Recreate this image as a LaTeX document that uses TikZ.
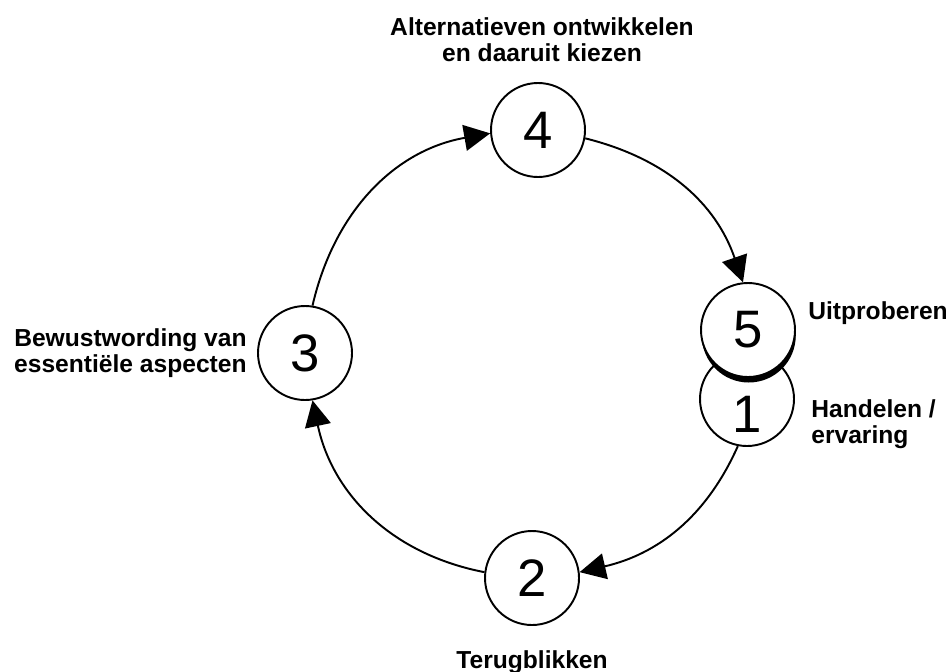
\documentclass[tikz,border=0pt]{standalone}
\usepackage{fontspec}
\setmainfont{Liberation Sans}
\usetikzlibrary{positioning, shadows, arrows.meta}

\begin{document}
\begin{tikzpicture}[stage/.style={circle, 
      draw, 
      line width=1.1pt, 
      fill=white, 
      minimum size=1.88cm, 
      inner sep=0pt, 
      font=\fontsize{30}{30}\selectfont},
    caption/.style={inner sep=0pt, 
      font=\bfseries\fontsize{14}{15}\selectfont},
    flow/.style={line width=1.1pt, 
      -{Triangle[length=0.52cm, width=0.52cm]}}]
  \useasboundingbox (0,0) rectangle (19,-13.42);


  \node [stage] (four) at (10.76,-2.60) {4};

  \node [stage] (three) at (6.10,-7.06) {3};

  \node [stage] (two) at (10.64,-11.56) {2};

  % digit sits low in this circle
  \node [stage] (one) at (14.94,-7.98) {\smash{\raisebox{-0.66cm}{1}}};

  \node [stage, 
    drop shadow={shadow xshift=0.015cm, 
      shadow yshift=-0.11cm, 
      fill=black, 
      opacity=1}] (five) at (14.96,-6.60) {5};


  \node [caption, 
    align=center, 
    above=0.4cm of four, 
    xshift=0.08cm] (fourtitle) {Alternatieven ontwikkelen\\en daaruit kiezen};

  \node [caption, 
    align=center, 
    left=0.2cm of three] (threetitle) {Bewustwording van\\essentiële aspecten};

  \node [caption, 
    below=0.48cm of two] (twotitle) {Terugblikken};

  \node [caption, 
    right=0.24cm of five, 
    yshift=0.33cm] (fivetitle) {Uitproberen};

  \node [caption, 
    align=left, 
    right=0.32cm of one, 
    yshift=-0.5cm] (onetitle) {Handelen /\\ervaring};


  \draw[flow] (three.81) to[out=77, in=190] (four.184);

  \draw[flow] (four.-10) to[out=-14, in=109] (five.96);

  \draw[flow] (one.-101) to[out=-114, in=13] (two.7);

  \draw[flow] (two.173) to[out=169, in=-78] (three.-81);

\end{tikzpicture}
\end{document}
